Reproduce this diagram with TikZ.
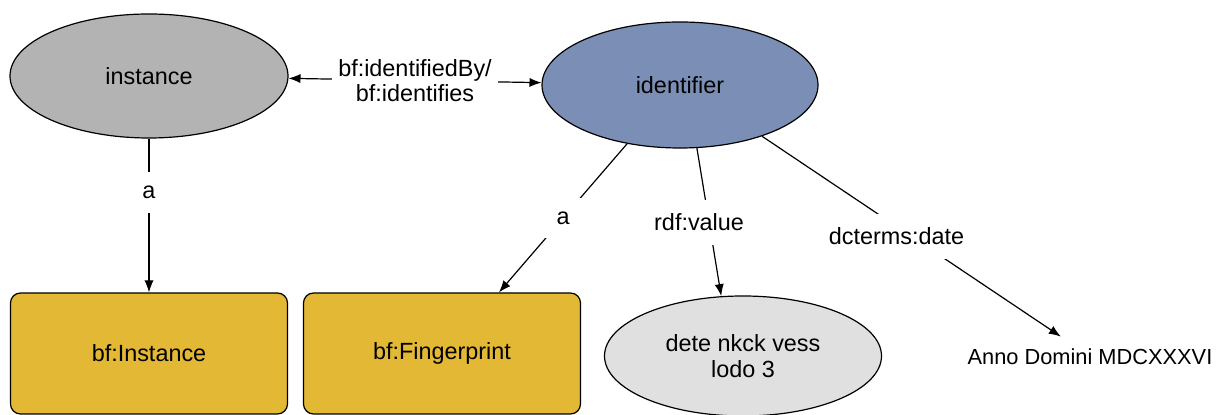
\documentclass[tikz,border=0pt]{standalone}
\usepackage{fontspec}
\setmainfont{Liberation Sans}
\usetikzlibrary{arrows.meta,shapes.geometric}
\definecolor{instgray}{HTML}{B3B3B3}
\definecolor{identblue}{HTML}{7B8FB6}
\definecolor{classyellow}{HTML}{E3B834}
\definecolor{litgray}{HTML}{E0E0E0}

\begin{document}
\begin{tikzpicture}[x=0.5pt, y=-0.5pt, >={Latex[length=6pt,width=4.6pt]},
		every node/.style={font=\fontsize{11.7}{12.8}\selectfont, align=center},
		resnode/.style={ellipse, draw, line width=0.6pt, inner sep=0pt},
		classbox/.style={draw, line width=0.6pt, rounded corners=5pt, fill=classyellow,
			minimum width=138.5pt, minimum height=60.5pt},
		rel/.style={->, line width=0.6pt},
		rellabel/.style={fill=white, inner sep=7pt}]
		
		\useasboundingbox (0,0) rectangle (1225,415);
		
		% ---------- Resources ----------
		\node[resnode, fill=instgray, minimum width=139pt, minimum height=62pt] (instance) at (149,76) {instance};
		\node[resnode, fill=identblue, minimum width=138pt, minimum height=63pt] (identifier) at (680,85) {identifier};
		
		% ---------- Classes and values ----------
		\node[classbox] (bfinstance) at (149,353.5) {bf:Instance};
		\node[classbox] (bffingerprint) at (442,353.5) {bf:Fingerprint};
		\node[resnode, fill=litgray, minimum width=138.5pt, minimum height=60pt] (value) at (743,356) {dete nkck vess\\lodo 3};
		\node[inner sep=6pt, font=\fontsize{10.9}{12}\selectfont] (date) at (1090,357) {Anno Domini MDCXXXVI};
		
		% ---------- Relations ----------
		\draw[rel, <->] (instance) -- (identifier)
		node[midway, fill=white, inner sep=3pt] (idlabel) {bf:identifiedBy/\\bf:identifies};
		\draw[rel] (instance) -- (bfinstance)
		node[pos=0.35, rellabel] (alabel) {a};
		\draw[rel] (identifier.228) -- (bffingerprint.47)
		node[midway, rellabel] (blabel) {a};
		\draw[rel] (identifier.285) -- (value.110)
		node[midway, rellabel, xshift=-5pt] (vlabel) {rdf:value};
		\draw[rel] (identifier.328) -- (date.145)
		node[pos=0.45, rellabel, yshift=-5pt] (dlabel) {dcterms:date};
		
	\end{tikzpicture}
\end{document}
